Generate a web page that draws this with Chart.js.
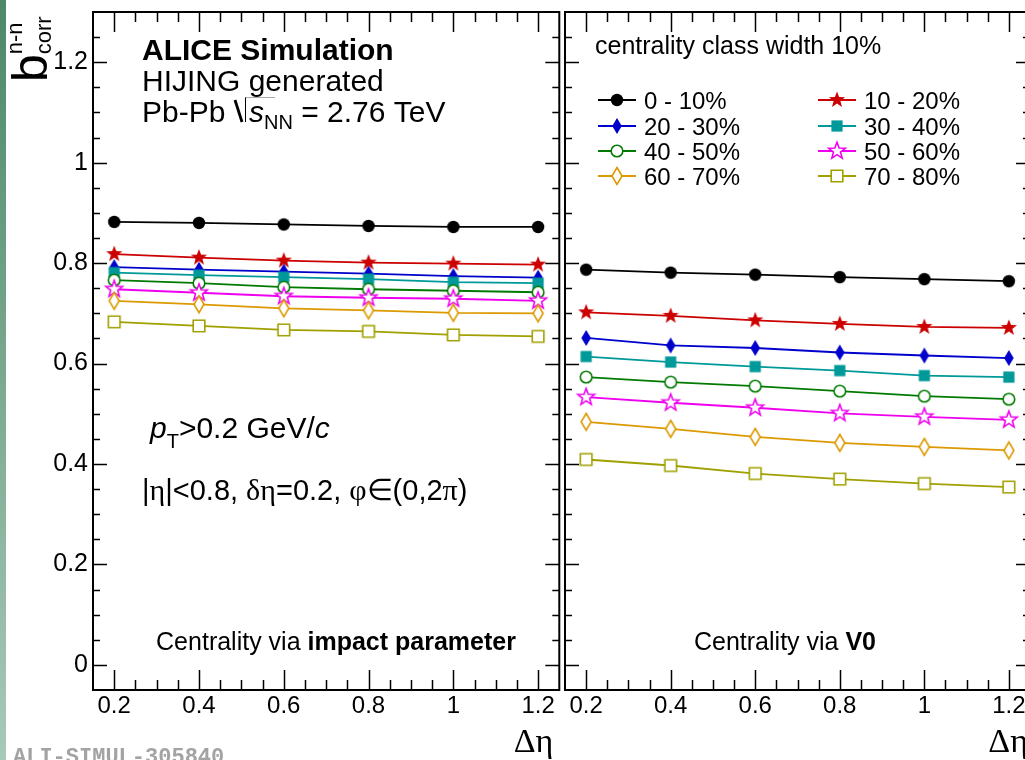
<!DOCTYPE html>
<html>
<head>
<meta charset="utf-8">
<script src="https://cdn.jsdelivr.net/npm/chart.js@4.4.1/dist/chart.umd.min.js"></script>
<style>
  html, body { margin: 0; padding: 0; background: #fff; width: 1025px; height: 760px; overflow: hidden; }
  #stripe { position: absolute; left: 0; top: 0; width: 6px; height: 760px; background: linear-gradient(#4c8968, #a9c9b9); }
  #left { position: absolute; left: 0; top: 0; }
  #right { position: absolute; left: 562px; top: 0; }
</style>
</head>
<body>
<div id="stripe"></div>
<canvas id="left" width="562" height="760"></canvas>
<canvas id="right" width="480" height="760"></canvas>
<script>
// Δη values at which the correlation strength is evaluated
const deltaEta = [0.2, 0.4, 0.6, 0.8, 1.0, 1.2];

// centrality classes (10% wide)
const classLabels = ['0 - 10%', '10 - 20%', '20 - 30%', '30 - 40%', '40 - 50%', '50 - 60%', '60 - 70%', '70 - 80%'];

// b_corr^{n-n}, centrality from impact parameter
const ip_0_10  = [0.882, 0.880, 0.877, 0.874, 0.872, 0.872];
const ip_10_20 = [0.818, 0.811, 0.805, 0.801, 0.799, 0.797];
const ip_20_30 = [0.792, 0.787, 0.783, 0.779, 0.774, 0.771];
const ip_30_40 = [0.781, 0.776, 0.772, 0.768, 0.762, 0.760];
const ip_40_50 = [0.766, 0.760, 0.752, 0.748, 0.745, 0.742];
const ip_50_60 = [0.748, 0.741, 0.734, 0.731, 0.729, 0.725];
const ip_60_70 = [0.725, 0.718, 0.710, 0.706, 0.701, 0.700];
const ip_70_80 = [0.683, 0.675, 0.667, 0.664, 0.657, 0.654];

// b_corr^{n-n}, centrality from V0 multiplicity
const v0_0_10  = [0.787, 0.781, 0.777, 0.772, 0.768, 0.764];
const v0_10_20 = [0.702, 0.695, 0.686, 0.679, 0.673, 0.671];
const v0_20_30 = [0.651, 0.636, 0.631, 0.622, 0.616, 0.611];
const v0_30_40 = [0.614, 0.603, 0.594, 0.586, 0.576, 0.573];
const v0_40_50 = [0.573, 0.563, 0.555, 0.545, 0.535, 0.529];
const v0_50_60 = [0.533, 0.522, 0.512, 0.501, 0.494, 0.488];
const v0_60_70 = [0.484, 0.470, 0.454, 0.442, 0.434, 0.427];
const v0_70_80 = [0.409, 0.397, 0.381, 0.370, 0.361, 0.354];

// axis ticks
const xTickValues = [0.2, 0.4, 0.6, 0.8, 1.0, 1.2];
const xTickLabels = ['0.2', '0.4', '0.6', '0.8', '1', '1.2'];
const yTickValues = [0, 0.2, 0.4, 0.6, 0.8, 1.0, 1.2];
const yTickLabels = ['0', '0.2', '0.4', '0.6', '0.8', '1', '1.2'];

const SANS = '"Liberation Sans", Arial, Helvetica, sans-serif';
const SERIF = '"Liberation Serif", "Times New Roman", serif';

// marker look per class
const styles = [
  { color: '#000000', shape: 'circle',  open: false },
  { color: '#cc0000', shape: 'star',    open: false },
  { color: '#0000cc', shape: 'diamond', open: false },
  { color: '#009999', shape: 'square',  open: false },
  { color: '#007a00', shape: 'circle',  open: true  },
  { color: '#ee00ee', shape: 'star',    open: true  },
  { color: '#dd9900', shape: 'diamond', open: true  },
  { color: '#a0a000', shape: 'square',  open: true  }
];

function markerCanvas(shape, color, open) {
  const S = 28, m = S / 2;
  const c = document.createElement('canvas');
  c.width = S; c.height = S;
  const g = c.getContext('2d');
  g.beginPath();
  if (shape === 'star') {
    const R = open ? 8.8 : 8.5, r = R * 0.42;
    for (let k = 0; k < 10; k++) {
      const a = -Math.PI / 2 + k * Math.PI / 5;
      const rr = (k % 2) ? r : R;
      g.lineTo(m + rr * Math.cos(a), m + rr * Math.sin(a));
    }
  } else if (shape === 'diamond') {
    const hw = open ? 5 : 4.8, hh = open ? 8.5 : 8;
    g.moveTo(m, m - hh); g.lineTo(m + hw, m); g.lineTo(m, m + hh); g.lineTo(m - hw, m);
  } else if (shape === 'circle') {
    g.arc(m, m, open ? 5.8 : 6.2, 0, Math.PI * 2);
  } else {
    const h = open ? 5.8 : 5.6;
    g.rect(m - h, m - h, 2 * h, 2 * h);
  }
  g.closePath();
  if (open) {
    g.fillStyle = '#ffffff'; g.fill();
    g.lineWidth = 1.6; g.strokeStyle = color; g.lineJoin = 'miter'; g.stroke();
  } else {
    g.fillStyle = color; g.fill();
  }
  return c;
}
const markers = styles.map(s => markerCanvas(s.shape, s.color, s.open));

function buildDatasets(seriesList) {
  return seriesList.map((vals, i) => ({
    label: classLabels[i],
    data: deltaEta.map((x, k) => ({ x: x, y: vals[k] })),
    borderColor: styles[i].color,
    backgroundColor: styles[i].color,
    borderWidth: 1.8,
    pointStyle: markers[i],
    pointRadius: 7,
    showLine: true,
    tension: 0,
    order: seriesList.length - i
  }));
}

// ROOT-style frame with inward ticks on all four sides
const rootFrame = {
  id: 'rootFrame',
  afterDatasetsDraw(chart) {
    const { ctx, chartArea: a, scales } = chart;
    const xs = scales.x, ys = scales.y;
    ctx.save();
    ctx.strokeStyle = '#000';
    ctx.lineWidth = 1.5;
    ctx.beginPath();
    for (let v = 0.2; v < 1.25; v += 0.05) {
      const major = Math.abs(Math.round(v * 5) - v * 5) < 1e-6;
      const L = major ? 20 : 10;
      const px = Math.round(xs.getPixelForValue(v)) + 0.5;
      ctx.moveTo(px, a.bottom); ctx.lineTo(px, a.bottom - L);
      ctx.moveTo(px, a.top); ctx.lineTo(px, a.top + L);
    }
    for (let v = 0; v < 1.3 - 1e-6; v += 0.05) {
      const major = Math.abs(Math.round(v * 5) - v * 5) < 1e-6;
      const L = major ? 14 : 7;
      const py = Math.round(ys.getPixelForValue(v)) + 0.5;
      ctx.moveTo(a.left, py); ctx.lineTo(a.left + L, py);
      ctx.moveTo(a.right, py); ctx.lineTo(a.right - L, py);
    }
    ctx.stroke();
    ctx.lineWidth = 2;
    ctx.strokeRect(a.left, a.top, a.right - a.left, a.bottom - a.top);
    ctx.restore();
  }
};

// draw a line of mixed-font text
function rich(ctx, x, y, parts, align) {
  let w = 0;
  parts.forEach(p => { ctx.font = p.f; p.w = ctx.measureText(p.t).width; w += p.w + (p.gap || 0); });
  let cx = align === 'center' ? x - w / 2 : (align === 'right' ? x - w : x);
  parts.forEach(p => {
    ctx.font = p.f;
    ctx.fillText(p.t, cx, y + (p.dy || 0));
    p.x = cx;
    cx += p.w + (p.gap || 0);
  });
  return parts;
}

function axisTitle(ctx, a, inset) {
  ctx.save();
  ctx.fillStyle = '#000';
  ctx.textAlign = 'left';
  ctx.textBaseline = 'alphabetic';
  rich(ctx, a.right - inset, 752, [
    { t: 'Δη', f: '34px ' + SERIF }
  ], 'right');
  ctx.restore();
}

const leftText = {
  id: 'leftText',
  afterDraw(chart) {
    const ctx = chart.ctx, a = chart.chartArea;
    ctx.save();
    ctx.fillStyle = '#000';
    ctx.textBaseline = 'alphabetic';
    ctx.textAlign = 'left';
    ctx.font = 'bold 30px ' + SANS;
    ctx.fillText('ALICE Simulation', 142, 60);
    ctx.font = '30px ' + SANS;
    ctx.fillText('HIJING generated', 142, 91);

    // Pb-Pb √s_NN = 2.76 TeV
    ctx.font = '30px ' + SANS;
    ctx.fillText('Pb-Pb', 142, 122);
    const sx = 235;
    ctx.strokeStyle = '#000';
    ctx.lineWidth = 2.8;
    ctx.beginPath(); ctx.moveTo(sx, 100); ctx.lineTo(sx + 7, 122); ctx.stroke();
    ctx.lineWidth = 1;
    ctx.beginPath(); ctx.moveTo(sx + 10.5, 97); ctx.lineTo(sx + 10.5, 122); ctx.stroke();
    ctx.strokeStyle = '#aaa';
    ctx.beginPath(); ctx.moveTo(sx + 10.5, 97.5); ctx.lineTo(sx + 40, 97.5); ctx.stroke();
    rich(ctx, sx + 14, 122, [
      { t: 's', f: 'italic 30px ' + SANS },
      { t: 'NN', f: '20px ' + SANS, dy: 7 },
      { t: ' = 2.76 TeV', f: '30px ' + SANS }
    ]);

    rich(ctx, 150, 438, [
      { t: 'p', f: 'italic 30px ' + SANS },
      { t: 'T', f: '20px ' + SANS, dy: 10 },
      { t: '>0.2 GeV/', f: '30px ' + SANS },
      { t: 'c', f: 'italic 30px ' + SANS }
    ]);
    rich(ctx, 142, 500, [
      { t: '|', f: '29px ' + SANS },
      { t: 'η', f: '30px ' + SERIF },
      { t: '|<0.8, ', f: '29px ' + SANS },
      { t: 'δη', f: '30px ' + SERIF },
      { t: '=0.2, ', f: '29px ' + SANS },
      { t: 'φ∈', f: '30px ' + SERIF },
      { t: '(0,2', f: '29px ' + SANS },
      { t: 'π', f: '30px ' + SERIF },
      { t: ')', f: '29px ' + SANS }
    ]);

    rich(ctx, 336, 650, [
      { t: 'Centrality via ', f: '25px ' + SANS },
      { t: 'impact parameter', f: 'bold 25px ' + SANS }
    ], 'center');

    axisTitle(ctx, a, 6);

    // y-axis title b^{n-n}_{corr}
    ctx.save();
    ctx.translate(47, 82);
    ctx.rotate(-Math.PI / 2);
    ctx.font = '50px ' + SANS;
    ctx.fillText('b', 0, 0);
    const bw = ctx.measureText('b').width;
    ctx.font = '22px ' + SANS;
    ctx.fillText('n-n', bw, -25);
    ctx.fillText('corr', bw, 4);
    ctx.restore();

    // plot reference number
    ctx.fillStyle = '#a3a3a3';
    ctx.font = 'bold 22px "Liberation Mono", "DejaVu Sans Mono", monospace';
    ctx.fillText('ALI-SIMUL-305840', 13, 763);
    ctx.restore();
  }
};

const rightText = {
  id: 'rightText',
  afterDraw(chart) {
    const ctx = chart.ctx, a = chart.chartArea;
    ctx.save();
    ctx.fillStyle = '#000';
    ctx.textBaseline = 'alphabetic';
    ctx.textAlign = 'left';
    ctx.font = '25px ' + SANS;
    ctx.fillText('centrality class width 10%', 33, 54);

    // legend: two columns, filled row by row
    const colLine = [36, 256], colText = [82, 302];
    const rowY = [100, 126, 151, 176];
    chart.data.datasets.forEach((ds, i) => {
      const col = i % 2, row = Math.floor(i / 2);
      const y = rowY[row];
      ctx.strokeStyle = ds.borderColor;
      ctx.lineWidth = 1.8;
      ctx.beginPath(); ctx.moveTo(colLine[col], y); ctx.lineTo(colLine[col] + 38, y); ctx.stroke();
      Chart.helpers.drawPoint(ctx, { pointStyle: ds.pointStyle, radius: 7, rotation: 0, borderWidth: 0 }, colLine[col] + 19, y);
      ctx.fillStyle = '#000';
      ctx.font = '24px ' + SANS;
      ctx.fillText(ds.label, colText[col], y + 9);
    });

    rich(ctx, 223, 650, [
      { t: 'Centrality via ', f: '25px ' + SANS },
      { t: 'V0', f: 'bold 25px ' + SANS }
    ], 'center');

    axisTitle(ctx, a, 2);
    ctx.restore();
  }
};

function zeroPadding(s) {
  s.paddingTop = 0; s.paddingBottom = 0; s.paddingLeft = 0; s.paddingRight = 0;
}

function options(isLeft) {
  return {
    responsive: false,
    animation: false,
    layout: {
      autoPadding: false,
      padding: { top: 12, bottom: 0, left: isLeft ? 0 : 3, right: isLeft ? 2.7 : 12 }
    },
    plugins: { legend: { display: false }, tooltip: { enabled: false } },
    scales: {
      x: {
        type: 'linear', min: 0.15, max: 1.25,
        grid: { display: false, drawTicks: false },
        border: { display: false },
        afterBuildTicks: s => { s.ticks = xTickValues.map(v => ({ value: v })); },
        afterFit: s => { s.height = 70; zeroPadding(s); },
        ticks: {
          color: '#000', font: { family: SANS, size: 24 }, padding: 2,
          maxRotation: 0, autoSkip: false,
          callback: (v, i) => xTickLabels[i]
        }
      },
      y: {
        type: 'linear', min: -0.05, max: 1.3,
        display: isLeft,
        grid: { display: false, drawTicks: false },
        border: { display: false },
        afterBuildTicks: s => { s.ticks = yTickValues.map(v => ({ value: v })); },
        afterFit: s => { s.width = isLeft ? 93 : 0; zeroPadding(s); },
        ticks: {
          color: '#000', font: { family: SANS, size: 25 }, padding: 5,
          autoSkip: false,
          callback: (v, i) => yTickLabels[i]
        }
      }
    }
  };
}

new Chart(document.getElementById('left'), {
  type: 'scatter',
  data: { datasets: buildDatasets([ip_0_10, ip_10_20, ip_20_30, ip_30_40, ip_40_50, ip_50_60, ip_60_70, ip_70_80]) },
  options: options(true),
  plugins: [rootFrame, leftText]
});

new Chart(document.getElementById('right'), {
  type: 'scatter',
  data: { datasets: buildDatasets([v0_0_10, v0_10_20, v0_20_30, v0_30_40, v0_40_50, v0_50_60, v0_60_70, v0_70_80]) },
  options: options(false),
  plugins: [rootFrame, rightText]
});
</script>
</body>
</html>
